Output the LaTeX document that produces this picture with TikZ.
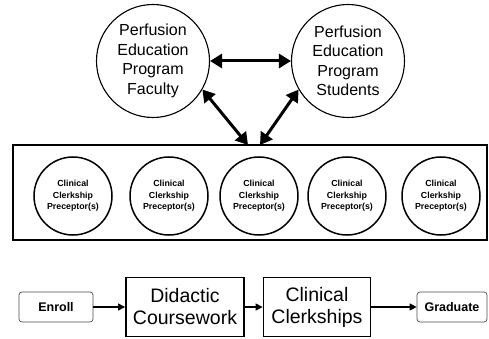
\documentclass[tikz,border=0pt]{standalone}
\usepackage{fontspec}
\setmainfont{Liberation Sans}
\usetikzlibrary{arrows.meta}

\begin{document}
\begin{tikzpicture}[x=1pt,y=-1pt,
  bigcirc/.style={draw,circle,line width=1.1pt,minimum size=113pt,inner sep=0pt,align=center,font=\fontsize{16}{19.5}\selectfont},
  precirc/.style={draw,circle,line width=1.5pt,minimum size=78pt,inner sep=0pt,align=center,font=\bfseries\fontsize{8.8}{11.5}\selectfont},
  endbox/.style={draw=black!70,rounded corners=3pt,line width=0.7pt,minimum height=30pt,font=\bfseries\fontsize{12.5}{14}\selectfont},
  stagebox/.style={draw,line width=1.8pt,minimum height=59pt,inner sep=0pt,align=center,font=\fontsize{19.5}{22}\selectfont},
  dbl/.style={line width=3pt,{Triangle[length=12pt,width=14pt]}-{Triangle[length=12pt,width=14pt]}},
  flow/.style={line width=1.3pt,-{Triangle[length=7pt,width=7pt]}}]
\useasboundingbox (0,0) rectangle (489,339);

\node[bigcirc] (fac) at (153,61) {Perfusion\\Education\\Program\\Faculty};
\node[bigcirc] (stu) at (348,61) {Perfusion\\Education\\Program\\Students};

\node[draw,line width=1.5pt,minimum width=474pt,minimum height=95pt] (clin) at (250,192.5) {};
\foreach \x [count=\i] in {73,169,259,347,441}
  \node[precirc] (pre\i) at (\x,196) {Clinical\\Clerkship\\Preceptor(s)};

\coordinate (t1) at (248,145);
\coordinate (t2) at (260,145);
\draw[dbl] (fac) -- (stu);
\draw[dbl] (fac.-30) -- (t1);
\draw[dbl] (stu.-150) -- (t2);

\node[endbox,minimum width=74pt] (enroll) at (56,307) {Enroll};
\node[stagebox,minimum width=118pt] (didactic) at (185,307) {Didactic\\Coursework};
\node[stagebox,minimum width=107pt] (clerk) at (317,307) {Clinical\\Clerkships};
\node[endbox,minimum width=70pt] (grad) at (452,307) {Graduate};

\draw[flow] (enroll) -- (didactic);
\draw[flow] (didactic) -- (clerk);
\draw[flow] (clerk) -- (grad);
\end{tikzpicture}
\end{document}
